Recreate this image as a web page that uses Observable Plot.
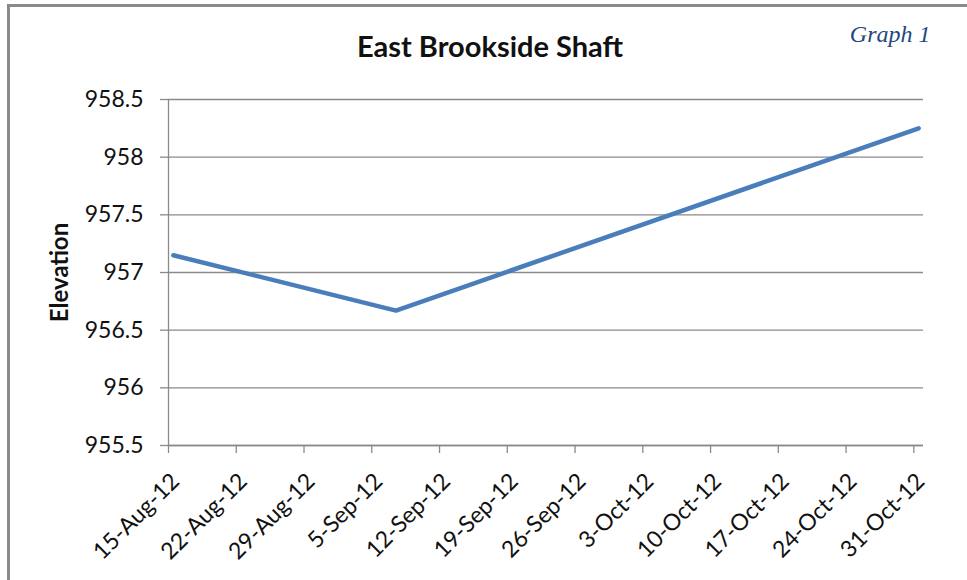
<!DOCTYPE html>
<html>
<head>
<meta charset="utf-8">
<script src="https://cdn.jsdelivr.net/npm/d3@7"></script>
<script src="https://cdn.jsdelivr.net/npm/@observablehq/plot@0.6"></script>
<style>
  html, body { margin: 0; padding: 0; background: #fff; }
  #wrap { position: relative; width: 967px; height: 580px; overflow: hidden; }
  #border { position: absolute; left: 7px; top: 4px; width: 1200px; height: 1200px;
            border-left: 3px solid #8a8a8a; border-top: 3px solid #8a8a8a; pointer-events: none; z-index: 2; }
</style>
</head>
<body>
<div id="wrap"><div id="border"></div></div>
<script>
// ---- data ----
const dates = ["2012-08-15", "2012-09-07", "2012-10-31"];
const elevations = [957.15, 956.67, 958.25];
const xTickDates = ["2012-08-15","2012-08-22","2012-08-29","2012-09-05","2012-09-12","2012-09-19",
                    "2012-09-26","2012-10-03","2012-10-10","2012-10-17","2012-10-24","2012-10-31"];
const yTicks = [955.5, 956, 956.5, 957, 957.5, 958, 958.5];
const xDomain = ["2012-08-15", "2012-11-01"];
const titleText = "East Brookside Shaft";
const yLabel = "Elevation";
const graphLabel = "Graph 1";

const parse = d3.utcParse("%Y-%m-%d");
const fmt = d3.utcFormat("%-d-%b-%y");
const rows = dates.map((d, i) => ({date: parse(d), value: elevations[i]}));
const tickRows = xTickDates.map(parse);
const HALF_DAY = 12 * 3600 * 1000; // Excel plots each date in the middle of its day slot

const font = "Lato, 'Open Sans', sans-serif";
const gray = "#8a8a8a";

const chart = Plot.plot({
  width: 967,
  height: 580,
  marginLeft: 168,
  marginRight: 44,
  marginTop: 99,
  marginBottom: 135,
  style: {fontFamily: font, background: "transparent", overflow: "visible"},
  x: {type: "utc", domain: xDomain.map(parse)},
  y: {domain: [yTicks[0], yTicks[yTicks.length - 1]]},
  marks: [
    Plot.gridY(yTicks, {stroke: gray, strokeOpacity: 1, strokeWidth: 1.3}),
    Plot.ruleX([parse(xDomain[0])], {stroke: gray, strokeWidth: 1.3}),
    Plot.ruleY([yTicks[0]], {stroke: gray, strokeWidth: 1.3}),
    Plot.axisY({
      ticks: yTicks, tickFormat: d => String(d), tickSize: 8, tickPadding: 17,
      fontSize: 23, fill: "#111", stroke: gray, strokeWidth: 1.3, label: null
    }),
    Plot.axisX({
      ticks: tickRows, tickFormat: () => "", tickSize: 8,
      stroke: gray, strokeWidth: 1.3, label: null
    }),
    Plot.text(tickRows, {
      x: d => d, text: fmt, frameAnchor: "bottom", lineAnchor: "middle",
      textAnchor: "end", rotate: -45, dx: 7, dy: 32,
      fontSize: 23, fill: "#111", fontFamily: font
    }),
    Plot.line(rows, {
      x: d => new Date(+d.date + HALF_DAY), y: "value",
      stroke: "#4a7ebb", strokeWidth: 4.5, strokeLinecap: "round", strokeLinejoin: "miter"
    }),
    Plot.text([titleText], {
      frameAnchor: "top-left", lineAnchor: "middle", dx: 321.5, dy: -51.3, textAnchor: "middle",
      fontSize: 29, fontWeight: "bold", fill: "#111", fontFamily: font
    }),
    Plot.text([yLabel], {
      frameAnchor: "left", lineAnchor: "middle", dx: -108, rotate: -90, textAnchor: "middle",
      fontSize: 24, fontWeight: "bold", fill: "#111", fontFamily: font
    }),
    Plot.text([graphLabel], {
      frameAnchor: "top-right", lineAnchor: "middle", dx: 7, dy: -64.7, textAnchor: "end",
      fontSize: 24, fontStyle: "italic", fill: "#1F497D", fontFamily: "'Liberation Serif', 'DejaVu Serif', serif"
    })
  ]
});
document.getElementById("wrap").appendChild(chart);
</script>
</body>
</html>
